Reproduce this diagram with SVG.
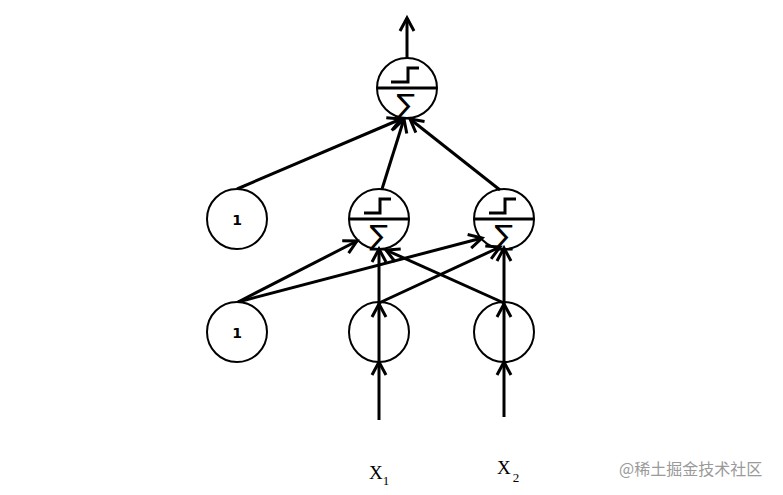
<svg xmlns="http://www.w3.org/2000/svg" width="783" height="495" viewBox="0 0 783 495">
<style>
.node{fill:#fff;stroke:#000;stroke-width:2}
.hollow{fill:none;stroke:#000;stroke-width:2}
.div{stroke:#000;stroke-width:3}
.step{fill:none;stroke:#000;stroke-width:3}
.edge{stroke:#000;stroke-width:3;fill:none;marker-end:url(#ah)}
.one{font-family:"DejaVu Sans",Verdana,sans-serif;font-weight:bold;font-size:14px;text-anchor:middle}
.sig{font-family:"DejaVu Sans",sans-serif;font-size:28px;text-anchor:middle}
.lbl{font-family:"Liberation Serif","Times New Roman",serif;font-size:19px}
.sub{font-family:"Liberation Serif","Times New Roman",serif;font-size:13px}
</style>
<defs>
<marker id="ah" markerUnits="userSpaceOnUse" markerWidth="30" markerHeight="30" viewBox="-15 -15 30 30" refX="0" refY="0" orient="auto">
<path d="M-13,-7 L0,0 L-13,7" fill="none" stroke="#000" stroke-width="3" stroke-linejoin="miter"/>
</marker>
</defs>
<rect width="783" height="495" fill="#fff"/>
<g id="connectors">
<line class="edge" x1="407" y1="58" x2="407" y2="18"/>
<line class="edge" x1="237" y1="189" x2="401" y2="119"/>
<line class="edge" x1="382" y1="189" x2="404" y2="119"/>
<line class="edge" x1="500" y1="190" x2="410" y2="119"/>
<line class="edge" x1="238" y1="302" x2="357" y2="241"/>
<line class="edge" x1="238" y1="302" x2="482" y2="238"/>
<line class="edge" x1="379" y1="303" x2="500" y2="247"/>
<line class="edge" x1="504" y1="303" x2="386" y2="250"/>
<line class="edge" x1="379" y1="420" x2="379" y2="362"/>
<line class="edge" x1="379" y1="362" x2="379" y2="304"/>
<line class="edge" x1="379" y1="304" x2="379" y2="249"/>
<line class="edge" x1="504" y1="417" x2="504" y2="362"/>
<line class="edge" x1="504" y1="362" x2="504" y2="304"/>
<line class="edge" x1="504" y1="304" x2="504" y2="248"/>
</g>
<g id="out">
<circle class="node" cx="407" cy="88" r="30"/>
<line class="div" x1="377" y1="88" x2="437" y2="88"/>
<path class="step" d="M391,82 H408 V68 H419"/>
<text class="sig" x="406" y="114">∑</text>
</g>
<g id="h1">
<circle class="hollow" cx="379" cy="219" r="30"/>
<line class="div" x1="349" y1="219" x2="409" y2="219"/>
<path class="step" d="M364,213 H380 V199 H391"/>
<text class="sig" x="379" y="245">∑</text>
</g>
<g id="h2">
<circle class="hollow" cx="504" cy="219" r="30"/>
<line class="div" x1="474" y1="219" x2="534" y2="219"/>
<path class="step" d="M489,213 H505 V199 H516"/>
<text class="sig" x="504" y="245">∑</text>
</g>
<g id="b2">
<circle class="node" cx="237" cy="219" r="30"/>
<text class="one" x="237" y="225">1</text>
</g>
<g id="b1">
<circle class="node" cx="237" cy="332" r="30"/>
<text class="one" x="237" y="338">1</text>
</g>
<g id="in1">
<circle class="hollow" cx="379" cy="332" r="30"/>
</g>
<g id="in2">
<circle class="hollow" cx="504" cy="332" r="30"/>
</g>
<g id="labels">
<text class="lbl" x="369" y="479">X<tspan class="sub" dy="6">1</tspan></text>
<text class="lbl" x="497" y="474">X<tspan class="sub" dy="8" dx="2">2</tspan></text>
<text x="619" y="475" font-family="'Noto Sans CJK SC',sans-serif" font-size="16" fill="#9a9a9a">@稀土掘金技术社区</text>
</g>
</svg>
